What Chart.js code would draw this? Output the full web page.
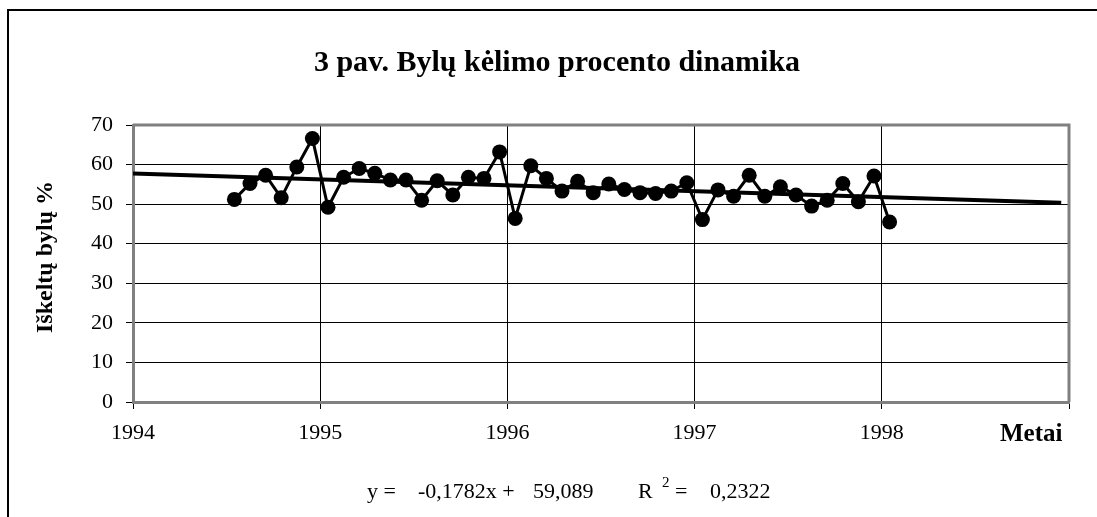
<!DOCTYPE html>
<html>
<head>
<meta charset="utf-8">
<script src="https://cdn.jsdelivr.net/npm/chart.js@4.4.0/dist/chart.umd.min.js"></script>
<style>
  body { margin: 0; background: #fff; }
  #wrap { position: relative; width: 1097px; height: 517px; overflow: hidden; }
  #frame { position: absolute; left: 7px; top: 9px; width: 1200px; height: 600px; border: 2px solid #000; }
  canvas { position: absolute; left: 0; top: 0; }
</style>
</head>
<body>
<div id="wrap">
  <div id="frame"></div>
  <canvas id="myChart" width="1097" height="517"></canvas>
</div>
<script>
// menesiai (kategorijos)
const menesiai = [
  '1994-07', '1994-08', '1994-09', '1994-10', '1994-11', '1994-12',
  '1995-01', '1995-02', '1995-03', '1995-04', '1995-05', '1995-06',
  '1995-07', '1995-08', '1995-09', '1995-10', '1995-11', '1995-12',
  '1996-01', '1996-02', '1996-03', '1996-04', '1996-05', '1996-06',
  '1996-07', '1996-08', '1996-09', '1996-10', '1996-11', '1996-12',
  '1997-01', '1997-02', '1997-03', '1997-04', '1997-05', '1997-06',
  '1997-07', '1997-08', '1997-09', '1997-10', '1997-11', '1997-12',
  '1998-01'
]
// iskeltu bylu procentas
const procentai = [
  51.2, 55.2, 57.3, 51.6, 59.4, 66.6,
  49.2, 56.8, 59.0, 57.8, 56.1, 56.1,
  51.0, 55.9, 52.3, 56.8, 56.5, 63.2,
  46.4, 59.7, 56.5, 53.3, 55.8, 52.9,
  55.1, 53.7, 52.9, 52.7, 53.3, 55.4,
  46.1, 53.6, 52.0, 57.3, 52.0, 54.4,
  52.3, 49.5, 51.0, 55.2, 50.6, 57.1,
  45.5
]
const metai = [1994, 1995, 1996, 1997, 1998, 1999]
const procTicks = [0, 10, 20, 30, 40, 50, 60, 70]
const trendForward = 11   // menesiai i prieki
const antraste = '3 pav. Bylų kėlimo procento dinamika'
const yAsis = 'Iškeltų bylų %'
const xAsis = 'Metai'
const lygtis = ['y =', '-0,1782x +', '59,089']
const r2 = '0,2322'

const serif = 'Liberation Serif'

// menesio vidurys kaip metu trupmena
const taskai = menesiai.map((m, i) => {
  const [y, mo] = m.split('-').map(Number)
  return { x: y + (mo - 0.5) / 12, y: procentai[i] }
})

// tiesine regresija
function trend(pts) {
  const n = pts.length
  let sx = 0, sy = 0, sxx = 0, sxy = 0
  pts.forEach(p => { sx += p.x; sy += p.y; sxx += p.x * p.x; sxy += p.x * p.y })
  const b = (n * sxy - sx * sy) / (n * sxx - sx * sx)
  const a = (sy - b * sx) / n
  return x => a + b * x
}
const f = trend(taskai)
const x0 = metai[0]
const x1 = taskai[taskai.length - 1].x + trendForward / 12
const trendTaskai = [{ x: x0, y: f(x0) }, { x: x1, y: f(x1) }]

const extras = {
  id: 'extras',
  afterDraw(chart) {
    const ctx = chart.ctx
    const a = chart.chartArea
    ctx.save()
    // plot border (top, right)
    ctx.strokeStyle = '#808080'
    ctx.lineWidth = 3
    ctx.beginPath()
    ctx.moveTo(a.left, a.top)
    ctx.lineTo(a.right, a.top)
    ctx.lineTo(a.right, a.bottom)
    ctx.stroke()

    ctx.fillStyle = '#000'
    // title
    ctx.textAlign = 'center'
    ctx.textBaseline = 'middle'
    ctx.font = 'bold 30px ' + serif
    ctx.fillText(antraste, 557, 63)

    // y axis title
    ctx.save()
    ctx.translate(46, 257)
    ctx.rotate(-Math.PI / 2)
    ctx.font = 'bold 24px ' + serif
    ctx.fillText(yAsis, 0, 0)
    ctx.restore()

    ctx.textBaseline = 'alphabetic'
    ctx.textAlign = 'left'
    ctx.font = 'bold 25px ' + serif
    ctx.fillText(xAsis, 1000, 441)

    ctx.font = '22px ' + serif
    ctx.fillText(lygtis[0], 367, 498)
    ctx.fillText(lygtis[1], 418, 498)
    ctx.fillText(lygtis[2], 533, 498)
    ctx.fillText('R', 638, 498)
    ctx.font = '15px ' + serif
    ctx.fillText('2', 662, 487)
    ctx.font = '22px ' + serif
    ctx.fillText('=', 675, 498)
    ctx.fillText(r2, 710, 498)
    ctx.restore()
  }
}

const ctx = document.getElementById('myChart')
new Chart(ctx, {
  type: 'scatter',
  data: {
    datasets: [{
      label: yAsis,
      data: taskai,
      showLine: true,
      borderColor: '#000',
      backgroundColor: '#000',
      borderWidth: 3,
      pointRadius: 7.5,
      pointBorderWidth: 0,
      order: 2
    }, {
      label: 'Trendas',
      data: trendTaskai,
      showLine: true,
      borderColor: '#000',
      borderWidth: 4,
      pointRadius: 0,
      order: 1
    }]
  },
  options: {
    responsive: false,
    animation: false,
    layout: { padding: { left: 0, right: 28, top: 125, bottom: 0 } },
    scales: {
      x: {
        type: 'linear',
        min: metai[0],
        max: metai[metai.length - 1],
        afterFit: s => { s.height = 115 },
        afterBuildTicks: s => { s.ticks = metai.map(v => ({ value: v })) },
        ticks: {
          autoSkip: false,
          maxRotation: 0,
          padding: 11,
          color: '#000',
          font: { family: serif, size: 22 },
          callback: v => v < metai[metai.length - 1] ? String(v) : ''
        },
        grid: { color: '#000', lineWidth: 1, tickLength: 7, tickColor: '#000' },
        border: { color: '#808080', width: 3 }
      },
      y: {
        min: 0,
        max: 70,
        afterFit: s => { s.width = 133 },
        afterBuildTicks: s => { s.ticks = procTicks.map(v => ({ value: v })) },
        ticks: {
          padding: 13,
          color: '#000',
          font: { family: serif, size: 22 }
        },
        grid: { color: '#000', lineWidth: 1, tickLength: 7, tickColor: '#000' },
        border: { color: '#808080', width: 3 }
      }
    },
    plugins: {
      legend: { display: false },
      tooltip: { enabled: false },
      title: { display: false }
    }
  },
  plugins: [extras]
})
</script>
</body>
</html>
